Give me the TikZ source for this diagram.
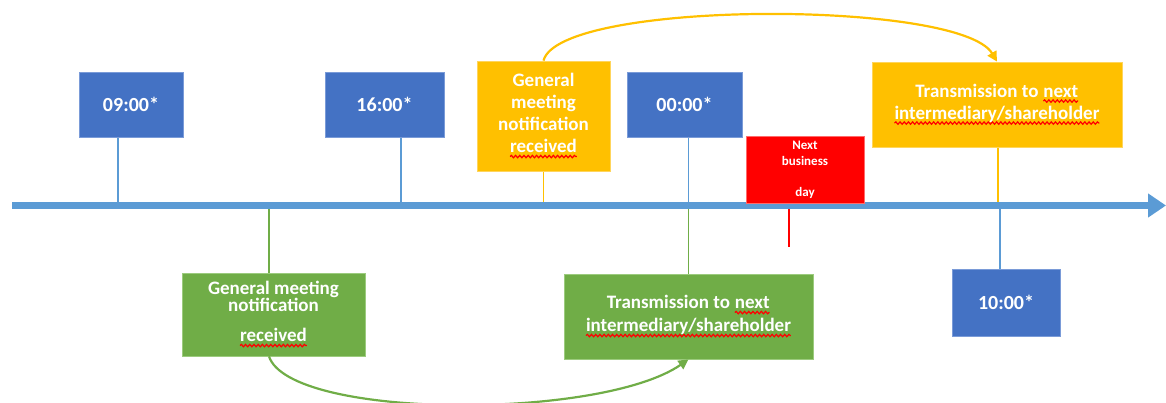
\documentclass[tikz,border=0pt]{standalone}
\usepackage{fontspec}
\setmainfont{Carlito}
\usetikzlibrary{arrows.meta,backgrounds,decorations.pathmorphing}

\definecolor{boxblue}{HTML}{4472C4}
\definecolor{boxblueedge}{HTML}{7A9BD8}
\definecolor{lineblue}{HTML}{5B9BD5}
\definecolor{boxyellow}{HTML}{FFC000}
\definecolor{boxyellowedge}{HTML}{FFD55C}
\definecolor{boxgreen}{HTML}{70AD47}
\definecolor{boxgreenedge}{HTML}{9CCB7E}
\definecolor{boxred}{HTML}{FF0000}
\definecolor{boxrededge}{HTML}{FF6B6B}

% red wavy spell-check underline under a word
\newcommand\spellwave[1]{\tikz[baseline=(sw.base)]{%
  \node[inner sep=0pt, outer sep=0pt, minimum width=0pt, minimum height=0pt,
        draw=none, fill=none, text=white] (sw) {#1};
  \draw[red, line width=1.2pt, decorate,
        decoration={snake, amplitude=1.2pt, segment length=4.2pt}]
    ([yshift=-3.6pt]sw.base west) -- ([yshift=-3.6pt]sw.base east);}}

\tikzset{
  tbox/.style={text=white, align=center, inner sep=0pt, line width=0.8pt,
    font=\bfseries\fontsize{19}{22}\selectfont},
  timebox/.style={tbox, fill=boxblue, draw=boxblueedge,
    font=\bfseries\fontsize{20}{22}\selectfont},
  yellowbox/.style={tbox, fill=boxyellow, draw=boxyellowedge},
  greenbox/.style={tbox, fill=boxgreen, draw=boxgreenedge},
  redbox/.style={tbox, fill=boxred, draw=boxrededge,
    font=\bfseries\fontsize{13}{16}\selectfont},
  bluetick/.style={draw=lineblue, line width=1.5pt},
  yellowtick/.style={draw=boxyellow, line width=1.5pt},
  greentick/.style={draw=boxgreen, line width=1.5pt},
  redtick/.style={draw=boxred, line width=1.5pt},
  timeline/.style={draw=lineblue, line width=7pt,
    -{Triangle[length=18pt,width=23pt]}},
  flowarrow/.style={line width=2.2pt, -{Triangle[length=10pt,width=10pt]}},
}

\begin{document}
\begin{tikzpicture}[x=1pt,y=-1pt]
\useasboundingbox (0,0) rectangle (1166,403);

% timeline end points
\coordinate (tlL) at (12,205.5);
\coordinate (tlR) at (1166,205.5);

% boxes above the timeline
\node[timebox, minimum width=104, minimum height=65] (b0900) at (131,104.5) {09:00*};
\node[timebox, minimum width=119, minimum height=65] (b1600) at (384.5,104.5) {16:00*};
\node[timebox, minimum width=115, minimum height=65] (b0000) at (684.5,104.5) {00:00*};
\node[yellowbox, minimum width=133, minimum height=110,
      font=\bfseries\fontsize{19}{22}\selectfont] (ygm) at (543.5,116)
      {General\\meeting\\notification\\\spellwave{received}};
\node[yellowbox, minimum width=250, minimum height=85] (ytr) at (997,104.5)
      {Transmission to \spellwave{next}\\\spellwave{intermediary/shareholder}};
\node[redbox, minimum width=118, minimum height=67] (nbd) at (805,169.5)
      {Next\\business\\[15pt]day};

% boxes below the timeline
\node[greenbox, minimum width=183, minimum height=83,
      font=\bfseries\fontsize{19}{17}\selectfont] (ggm) at (273.5,314.5)
      {General meeting\\notification\\[13pt]\spellwave{received}};
\node[greenbox, minimum width=249, minimum height=85,
      font=\bfseries\fontsize{19}{23}\selectfont] (gtr) at (688.5,316.5)
      {Transmission to \spellwave{next}\\\spellwave{intermediary/shareholder}};
\node[timebox, minimum width=108, minimum height=67] (b1000) at (1006,302.5) {10:00*};

% attachment points of the ticks
\coordinate (p0900) at ([xshift=-13pt]b0900.south);
\coordinate (p1600) at ([xshift=16.5pt]b1600.south);
\coordinate (pgm)   at ([xshift=-4.5pt]ggm.north);
\coordinate (pgout) at ([xshift=-4.5pt]ggm.south);
\coordinate (p1000) at ([xshift=-6pt]b1000.north);
\coordinate (pytr)  at ([xshift=1pt]ytr.south);
\coordinate (redEnd) at (789,247);

\begin{scope}[on background layer]
  % ticks between boxes and the timeline
  \draw[bluetick]   (p0900) -- (p0900 |- tlL);
  \draw[bluetick]   (p1600) -- (p1600 |- tlL);
  \draw[yellowtick] (ygm.south) -- (ygm.south |- tlL);
  \draw[bluetick]   (gtr.north |- b0000.south) -- (gtr.north |- tlL);
  \draw[greentick]  (gtr.north |- tlL) -- (gtr.north);
  \draw[greentick]  (pgm |- tlL) -- (pgm);
  \draw[yellowtick] (pytr) -- (pytr |- tlL);
  \draw[draw=lineblue, line width=2.8pt] (p1000 |- tlL) -- (p1000);
  \draw[redtick]    (redEnd |- tlL) -- (redEnd);
  % the timeline itself
  \draw[timeline] (tlL) -- (tlR);
\end{scope}

% curved transmission arrows
\draw[flowarrow, boxyellow] (ygm.north) .. controls +(16,-61) and +(-37,-62) .. (ytr.north);
\draw[flowarrow, boxgreen] (pgout) .. controls +(21,63) and +(-88.5,61) .. (gtr.south);
\end{tikzpicture}
\end{document}
